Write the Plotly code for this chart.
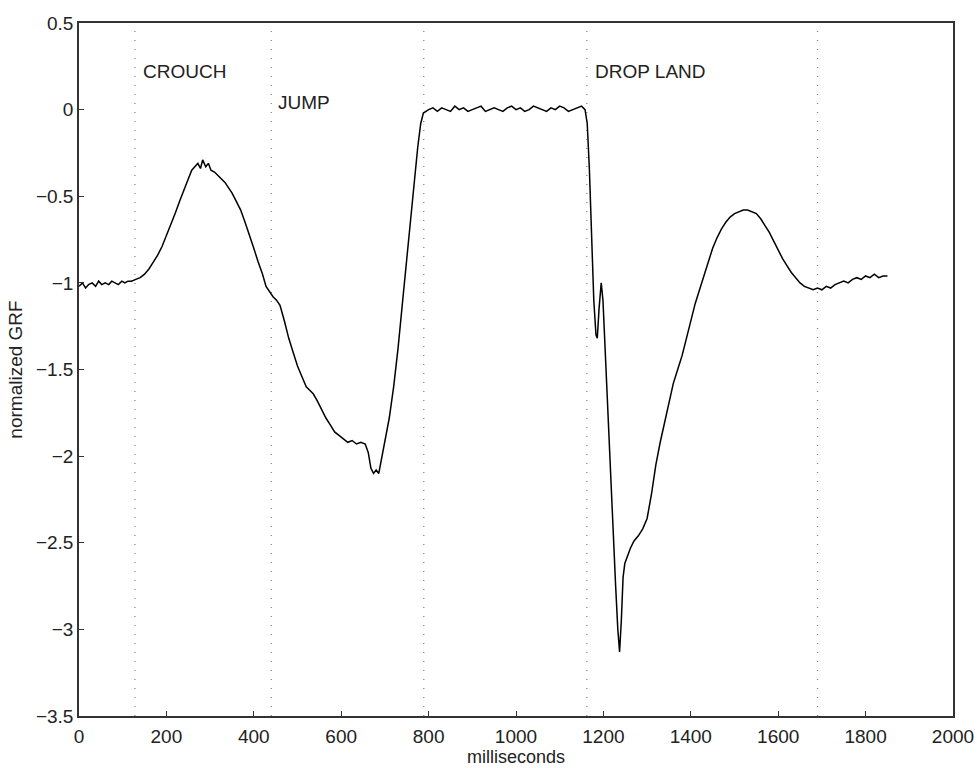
import plotly.graph_objects as go

# time (ms) and normalized GRF
ms = [0, 8, 15, 22, 30, 38, 45, 52, 60, 68, 75, 82, 90, 98, 105, 112, 120, 130,
      140, 150, 160, 170, 180, 190, 200, 210, 220, 230, 240, 250, 258, 265, 272,
      278, 283, 290, 296, 302, 310, 318, 326, 334, 342, 350, 360, 370, 380, 390,
      400, 410, 420, 428, 436, 444, 452, 460, 470, 480, 490, 500, 510, 520, 528,
      536, 545, 555, 565, 575, 585, 595, 605, 615, 625, 635, 645, 655, 662, 668,
      674, 680, 686, 692, 700, 710, 720, 730, 740, 750, 760, 768, 775, 782, 788,
      800, 810, 820, 830, 840, 850, 860, 870, 880, 890, 900, 910, 920, 930, 940,
      950, 960, 970, 980, 990, 1000, 1010, 1020, 1030, 1040, 1050, 1060, 1070,
      1080, 1090, 1100, 1110, 1120, 1130, 1140, 1150, 1158, 1163,
      1168, 1173, 1178, 1183, 1186, 1190, 1195, 1199, 1204, 1210, 1216, 1222,
      1228, 1233, 1237, 1241, 1245, 1249, 1255, 1262, 1270, 1280, 1290, 1300,
      1310, 1320, 1330, 1340, 1350, 1360, 1370, 1380, 1390, 1400, 1410, 1420,
      1430, 1440, 1450, 1460, 1470, 1480, 1490, 1500, 1510, 1520, 1530, 1540,
      1550, 1560, 1570, 1580, 1590, 1600, 1610, 1620, 1630, 1640, 1650, 1660,
      1670, 1680, 1690, 1700, 1710, 1720, 1730, 1740, 1750, 1760, 1770, 1780,
      1790, 1800, 1810, 1820, 1830, 1840, 1850]
grf = [-1.02, -1.00, -1.03, -1.01, -1.00, -1.02, -0.99, -1.01, -1.00, -1.01,
       -0.99, -1.00, -1.01, -0.99, -1.00, -0.99, -0.99, -0.98,
       -0.97, -0.95, -0.92, -0.88, -0.84, -0.79, -0.73, -0.67, -0.60, -0.53,
       -0.46, -0.40, -0.35, -0.33, -0.31, -0.34, -0.29, -0.33, -0.31, -0.35,
       -0.36, -0.38, -0.40, -0.42, -0.45, -0.48, -0.53, -0.58, -0.65, -0.72,
       -0.80, -0.88, -0.95, -1.02, -1.05, -1.08, -1.10, -1.13, -1.22, -1.32,
       -1.40, -1.48, -1.54, -1.60, -1.62, -1.64, -1.68, -1.73, -1.78, -1.82,
       -1.86, -1.88, -1.90, -1.92, -1.91, -1.93, -1.92, -1.93, -1.98, -2.07,
       -2.10, -2.08, -2.10, -2.02, -1.92, -1.78, -1.60, -1.38, -1.12, -0.86,
       -0.60, -0.40, -0.22, -0.08, -0.02,
       0.00, 0.01, -0.01, 0.01, 0.00, -0.01, 0.02, 0.00, 0.01, -0.01, 0.00,
       0.01, 0.02, -0.01, 0.00, 0.01, 0.00, -0.01, 0.01, 0.02, 0.00, 0.01,
       -0.01, 0.00, 0.02, 0.01, 0.00, -0.01, 0.01, 0.00, 0.02, 0.01, -0.01,
       0.00, 0.01, 0.02, 0.00, -0.08,
       -0.35, -0.75, -1.10, -1.30, -1.32, -1.15, -1.00, -1.10, -1.40, -1.70,
       -2.05, -2.40, -2.75, -3.00, -3.13, -2.95, -2.70, -2.62, -2.58, -2.53,
       -2.49, -2.46, -2.42, -2.36,
       -2.22, -2.05, -1.92, -1.80, -1.68, -1.58, -1.50, -1.42, -1.32, -1.22,
       -1.12, -1.04, -0.96, -0.88, -0.80, -0.74, -0.69, -0.65, -0.62, -0.60,
       -0.59, -0.58, -0.58, -0.59, -0.60, -0.63, -0.67, -0.71, -0.76, -0.81,
       -0.86, -0.90, -0.94, -0.97, -1.00, -1.02, -1.03, -1.04, -1.03, -1.04,
       -1.02, -1.03, -1.01, -1.00, -0.99, -1.00, -0.98, -0.97, -0.98, -0.96,
       -0.97, -0.95, -0.97, -0.96, -0.96]

phase_lines = [128, 440, 789, 1162, 1690]
phase_labels = ["CROUCH", "JUMP", "DROP LAND"]
label_x = [142, 451, 1176]
label_y = [0.22, 0.04, 0.22]

x_ticks = [0, 200, 400, 600, 800, 1000, 1200, 1400, 1600, 1800, 2000]
y_ticks = [0.5, 0, -0.5, -1, -1.5, -2, -2.5, -3, -3.5]

FONT = "Liberation Sans, Arial"
FS = 19

fig = go.Figure()
for xv in phase_lines:
    fig.add_trace(go.Scatter(x=[xv, xv], y=[-3.5, 0.5], mode="lines",
                             line=dict(color="#888888", width=1.3, dash="1px,8px"),
                             showlegend=False, hoverinfo="skip"))
fig.add_trace(go.Scatter(x=ms, y=grf, mode="lines",
                         line=dict(color="black", width=1.5),
                         showlegend=False))

for t, xv, yv in zip(phase_labels, label_x, label_y):
    fig.add_annotation(x=xv, y=yv, text=t, showarrow=False, xanchor="left",
                       yanchor="middle",
                       font=dict(family=FONT, size=FS, color="#222"))

axis_common = dict(showline=True, linecolor="#333", linewidth=1.5, mirror=True,
                   ticks="inside", ticklen=5, tickcolor="#333", showgrid=False,
                   zeroline=False, automargin=False,
                   tickfont=dict(family=FONT, size=FS, color="#222"))

fig.update_xaxes(range=[0, 2000], tickvals=x_ticks,
                 ticktext=[str(v) for v in x_ticks], ticklabelstandoff=2,
                 title=dict(text="milliseconds", standoff=4,
                            font=dict(family=FONT, size=FS - 1, color="#222")),
                 **axis_common)
fig.update_yaxes(range=[-3.5, 0.5], tickvals=y_ticks,
                 ticktext=[("\u2212" + str(abs(v)) if v < 0 else str(v)) for v in y_ticks],
                 title=dict(text="normalized GRF", standoff=8,
                            font=dict(family=FONT, size=FS, color="#222")),
                 **axis_common)

fig.update_layout(width=977, height=768, plot_bgcolor="white", paper_bgcolor="white",
                  margin=dict(l=79, r=24, t=23, b=52))
fig.write_html("out.html", config={"displayModeBar": False},
               post_script="document.body.style.margin='0';document.body.style.overflow='hidden';")
